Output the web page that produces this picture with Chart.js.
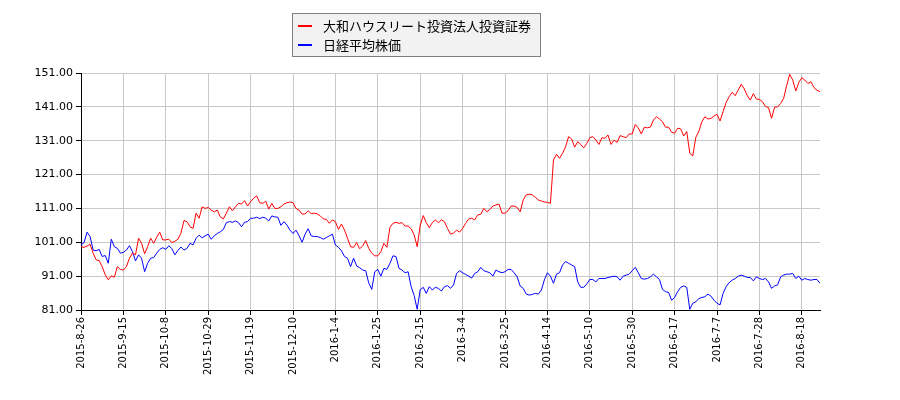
<!DOCTYPE html>
<html>
<head>
<meta charset="utf-8">
<script src="https://cdn.jsdelivr.net/npm/chart.js@4/dist/chart.umd.min.js"></script>
<style>
  html, body { margin: 0; padding: 0; background: #fff; }
  #wrap { width: 900px; height: 400px; }
</style>
</head>
<body>
<div id="wrap"><canvas id="myChart" width="900" height="400"></canvas></div>
<script>
const reitLabel = "大和ハウスリート投資法人投資証券";
const nikkeiLabel = "日経平均株価";

// one tick label every 14 trading days
const tickLabels = [
  "2015-8-26", "2015-9-15", "2015-10-8", "2015-10-29", "2015-11-19", "2015-12-10",
  "2016-1-4", "2016-1-25", "2016-2-15", "2016-3-4", "2016-3-25", "2016-4-14",
  "2016-5-10", "2016-5-30", "2016-6-17", "2016-7-7", "2016-7-28", "2016-8-18"
];
const tickStep = 14;

const reitValues = [
  99.7, 99.5, 99.9, 100.4, 97.8, 95.8, 95.6, 93.8, 91.4, 89.9, 91.1, 90.7, 93.8, 93.0, 92.8,
  93.8, 96.3, 97.8, 97.3, 102.2, 100.7, 97.6, 99.7, 102.2, 100.7, 102.5, 104.0, 101.7, 101.7,
  101.9, 100.9, 101.3, 101.9, 103.7, 107.4, 107.1, 105.6, 105.1, 109.6, 108.1, 111.5, 111.0, 111.3,
  110.5, 110.0, 110.5, 108.5, 107.9, 109.6, 111.5, 110.3, 111.5, 112.5, 112.3, 113.3, 111.7, 113.0,
  114.0, 114.7, 112.7, 112.5, 113.1, 110.8, 112.5, 111.0, 111.0, 111.5, 112.3, 112.7, 112.9, 112.7,
  111.0, 110.5, 109.3, 109.4, 110.3, 109.5, 109.6, 109.4, 108.8, 107.9, 107.8, 106.6, 107.6, 107.1,
  104.8, 106.4, 104.6, 102.2, 99.7, 99.5, 100.9, 99.1, 99.9, 101.5, 99.2, 97.8, 97.0, 97.0,
  98.2, 100.7, 99.5, 105.4, 106.6, 106.9, 106.6, 106.8, 105.8, 105.8, 105.0, 103.2, 99.7, 106.0,
  108.9, 106.8, 105.3, 106.8, 107.6, 106.8, 107.6, 107.1, 105.1, 103.4, 103.7, 104.6, 104.0, 105.1,
  106.6, 107.9, 108.1, 107.6, 109.1, 109.3, 111.0, 110.0, 110.7, 111.7, 112.0, 112.3, 109.6, 109.6,
  110.3, 111.7, 111.7, 111.3, 110.0, 113.5, 115.0, 115.2, 115.0, 114.3, 113.5, 113.2, 112.9, 112.8,
  112.5, 125.3, 127.0, 125.8, 127.3, 129.2, 132.2, 131.5, 129.1, 130.7, 129.9, 128.9, 130.2, 131.9,
  132.2, 131.2, 129.9, 131.9, 131.7, 132.7, 129.9, 131.2, 130.5, 132.5, 132.2, 131.9, 133.0, 133.0,
  135.8, 134.8, 133.0, 135.0, 134.8, 135.0, 137.1, 138.1, 137.4, 136.6, 135.0, 135.0, 133.5, 133.2,
  134.7, 134.5, 132.4, 133.7, 127.3, 126.5, 132.0, 133.8, 136.6, 138.1, 137.4, 137.6, 138.3, 138.8,
  136.8, 139.6, 142.3, 144.0, 145.3, 144.3, 146.0, 147.7, 146.3, 144.3, 143.0, 144.9, 143.3, 143.2,
  142.5, 141.1, 140.8, 137.6, 140.9, 141.0, 142.0, 143.5, 147.3, 150.6, 148.9, 145.7, 148.2, 149.6,
  148.9, 147.9, 148.4, 146.7, 145.9, 145.5
];

const nikkeiValues = [
  100.2, 100.9, 104.0, 102.7, 98.7, 98.5, 98.9, 96.8, 97.1, 94.8, 101.9, 99.7, 99.2, 97.8, 98.0,
  98.7, 100.0, 98.2, 95.5, 97.3, 96.3, 92.3, 94.8, 96.3, 96.5, 97.8, 98.9, 99.4, 98.9,
  100.0, 99.1, 97.3, 98.6, 99.6, 98.7, 99.2, 100.7, 100.2, 102.2, 103.1, 102.3, 102.9, 103.4,
  101.9, 102.9, 103.6, 104.1, 104.8, 106.8, 107.1, 106.9, 107.3, 106.8, 105.6, 106.9, 107.1, 108.1,
  108.1, 108.4, 108.0, 108.4, 108.1, 107.3, 108.8, 108.5, 108.4, 106.0, 107.1, 106.1, 104.6, 103.6,
  104.6, 102.9, 101.0, 103.4, 105.0, 102.9, 102.7, 102.7, 102.4, 101.9, 102.4, 102.9, 103.4, 100.2,
  99.5, 98.5, 96.8, 96.3, 93.8, 96.3, 94.0, 93.5, 92.8, 92.6, 89.0, 87.1, 92.3, 93.0,
  91.0, 93.3, 93.0, 94.8, 97.0, 96.8, 93.3, 92.8, 92.0, 92.3, 87.9, 85.3, 81.2, 87.0,
  87.7, 85.9, 87.9, 86.9, 87.7, 87.4, 86.6, 87.9, 88.2, 87.4, 88.4, 91.8, 92.6, 92.0,
  91.5, 91.0, 90.4, 91.8, 92.3, 93.6, 92.6, 92.3, 92.0, 91.0, 92.8, 92.3, 92.0, 92.3,
  93.0, 93.0, 92.0, 90.8, 88.1, 87.4, 85.7, 85.4, 85.6, 85.9, 85.7, 86.9, 89.9, 92.0,
  91.0, 88.9, 91.6, 92.0, 94.3, 95.3, 94.8, 94.3, 93.8, 89.3, 87.7, 87.7, 88.7, 90.0,
  90.0, 89.3, 90.3, 90.3, 90.3, 90.6, 90.8, 91.0, 90.8, 89.8, 91.0, 91.3, 91.6, 92.6,
  93.6, 92.0, 90.3, 90.1, 90.3, 90.8, 91.6, 90.8, 90.0, 87.1, 86.4, 86.2, 83.9, 84.7,
  86.4, 87.7, 88.1, 87.7, 81.2, 83.0, 83.4, 84.4, 84.7, 84.9, 85.7, 85.1, 83.9, 83.0,
  82.5, 85.9, 87.9, 89.1, 89.8, 90.3, 91.0, 91.3, 91.0, 90.6, 90.6, 89.6, 90.8, 90.3,
  90.0, 90.3, 89.3, 87.4, 88.1, 88.4, 90.8, 91.3, 91.6, 91.6, 91.8, 90.3, 91.0, 89.8,
  90.3, 90.0, 89.8, 90.0, 90.0, 88.9
];

const yMin = 81;
const yMax = 151;
const yStep = 10;

function toPoints(values) {
  return values.map((v, i) => ({ x: i, y: v }));
}

// legend drawn as a grey box with the two entries stacked
const legendBox = {
  id: "legendBox",
  afterDraw(chart) {
    const ctx = chart.ctx;
    ctx.save();
    ctx.fillStyle = "#f2f2f2";
    ctx.strokeStyle = "#808080";
    ctx.lineWidth = 1;
    ctx.fillRect(292.5, 13.5, 248, 43);
    ctx.strokeRect(292.5, 13.5, 248, 43);
    ctx.font = '13px "Noto Sans CJK JP", sans-serif';
    ctx.textBaseline = "middle";
    chart.data.datasets.forEach((ds, i) => {
      const y = 26 + i * 19;
      ctx.strokeStyle = ds.borderColor;
      ctx.lineWidth = 2;
      ctx.beginPath();
      ctx.moveTo(298, y);
      ctx.lineTo(312, y);
      ctx.stroke();
      ctx.fillStyle = "#000";
      ctx.fillText(ds.label, 323, y);
    });
    ctx.restore();
  }
};

const data = {
  datasets: [
    {
      label: reitLabel,
      data: toPoints(reitValues),
      borderColor: "#ff0000",
      borderWidth: 1,
      pointRadius: 0,
      tension: 0,
    },
    {
      label: nikkeiLabel,
      data: toPoints(nikkeiValues),
      borderColor: "#0000ff",
      borderWidth: 1,
      pointRadius: 0,
      tension: 0,
    },
  ],
};

const config = {
  type: "line",
  data,
  options: {
    responsive: false,
    animation: false,
    devicePixelRatio: 1,
    layout: { padding: { top: 73, right: 80, left: 0, bottom: 0 } },
    plugins: {
      legend: { display: false },
      tooltip: { enabled: false },
    },
    scales: {
      x: {
        type: "linear",
        min: 0,
        max: reitValues.length - 1,
        afterFit: (scale) => { scale.height = 90; },
        border: { display: true, color: "#000", width: 1 },
        grid: { color: "#c8c8c8", tickColor: "#000", tickLength: 5 },
        ticks: {
          stepSize: tickStep,
          includeBounds: false,
          autoSkip: false,
          minRotation: 90,
          maxRotation: 90,
          padding: 2,
          color: "#000",
          font: { family: "DejaVu Sans", size: 10 },
          callback: (v) => tickLabels[v / tickStep] || "",
        },
      },
      y: {
        min: yMin,
        max: yMax,
        afterFit: (scale) => { scale.width = 81; },
        border: { display: true, color: "#000", width: 1 },
        grid: { color: "#c8c8c8", tickColor: "#000", tickLength: 5 },
        ticks: {
          stepSize: yStep,
          padding: 3,
          color: "#000",
          font: { family: "DejaVu Sans", size: 11 },
          callback: (v) => v.toFixed(2),
        },
      },
    },
  },
  plugins: [legendBox],
};

new Chart(document.getElementById("myChart"), config);
</script>
</body>
</html>
